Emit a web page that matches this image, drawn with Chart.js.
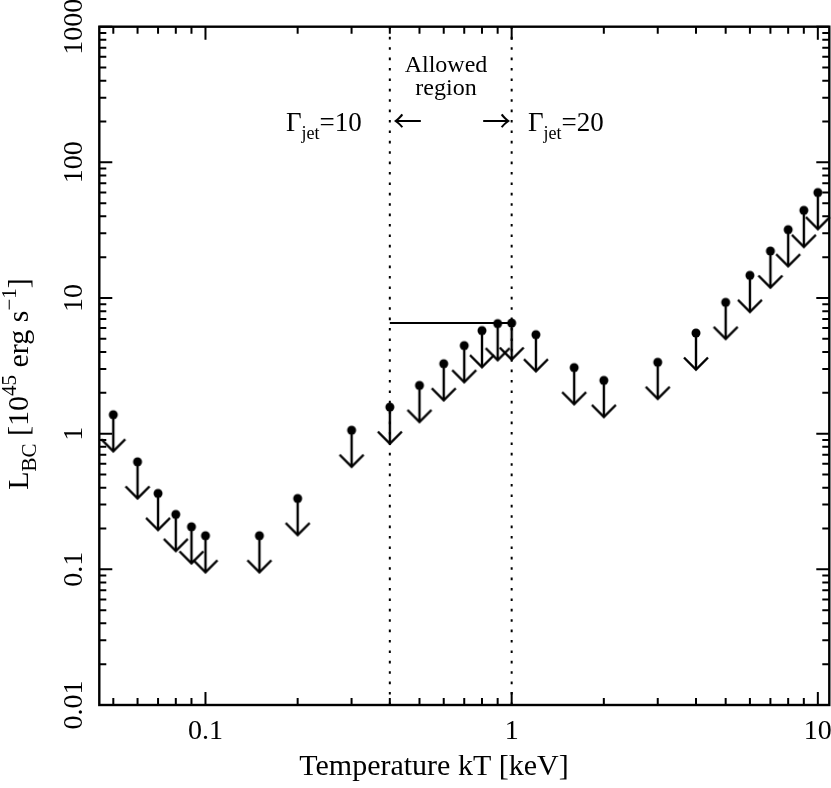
<!DOCTYPE html>
<html>
<head>
<meta charset="utf-8">
<title>L_BC upper limits vs temperature</title>
<script src="https://cdn.jsdelivr.net/npm/chart.js@4.4.1/dist/chart.umd.min.js"></script>
<style>
  html, body { margin: 0; padding: 0; background: #fff; overflow: hidden; }
  #wrap { width: 831px; height: 788px; }
  canvas { display: block; }
</style>
</head>
<body>
<div id="wrap"><canvas id="lbcChart" width="831" height="788"></canvas></div>
<script>
// Temperature kT [keV] of each trial and the upper limit on L_BC [1e45 erg/s]
const temperatures = [0.05, 0.06, 0.07, 0.08, 0.09, 0.1, 0.15, 0.2, 0.3, 0.4,
  0.5, 0.6, 0.7, 0.8, 0.9, 1.0, 1.2, 1.6, 2.0, 3.0, 4.0, 5.0, 6.0, 7.0, 8.0, 9.0, 10.0];
const upperLimits = [1.38, 0.62, 0.363, 0.254, 0.206, 0.177, 0.177, 0.333, 1.06, 1.57,
  2.27, 3.28, 4.46, 5.75, 6.48, 6.54, 5.37, 3.07, 2.47, 3.36, 5.52, 9.29, 14.7, 22.2, 31.9, 44.3, 59.9];

// Allowed region: Gamma_jet = 10 .. 20
const allowedRegionKT = [0.4, 1.0];
const allowedLevel = 6.55;

// Axis ranges and labelled ticks
const xRange = [0.045, 10.9];
const yRange = [0.01, 1000];
const xMajorTicks = [0.1, 1, 10];
const xTickLabels = ['0.1', '1', '10'];
const yMajorTicks = [0.01, 0.1, 1, 10, 100, 1000];
const yTickLabels = ['0.01', '0.1', '1', '10', '100', '1000'];

const SERIF = '"Liberation Serif", "DejaVu Serif", serif';
const ARROWS = '"Noto Sans CJK JP", "DejaVu Sans", sans-serif';

// 2..9 times each decade, inside the range
function minorTicks(range) {
  const out = [];
  const lo = Math.floor(Math.log10(range[0]));
  const hi = Math.ceil(Math.log10(range[1]));
  for (let d = lo; d <= hi; d++) {
    for (let m = 2; m <= 9; m++) {
      const v = m * Math.pow(10, d);
      if (v >= range[0] && v <= range[1]) out.push(v);
    }
  }
  return out;
}

// Dot with a down arrow below it (upper limit marker)
function makeLimitSymbol() {
  const c = document.createElement('canvas');
  c.width = 30;
  c.height = 86;
  const g = c.getContext('2d');
  const cx = 15, cy = 43, len = 36.5, head = 12;
  g.strokeStyle = '#000';
  g.fillStyle = '#000';
  g.lineWidth = 2.4;
  g.beginPath();
  g.moveTo(cx, cy);
  g.lineTo(cx, cy + len);
  g.stroke();
  g.beginPath();
  g.moveTo(cx - head, cy + len - head);
  g.lineTo(cx, cy + len);
  g.lineTo(cx + head, cy + len - head);
  g.stroke();
  g.beginPath();
  g.arc(cx, cy, 4.5, 0, Math.PI * 2);
  g.fill();
  return c;
}

// Draw text made of pieces, some raised or lowered
function drawRich(ctx, parts, x, y, align) {
  let total = 0;
  parts.forEach(p => {
    ctx.font = p.size + 'px ' + SERIF;
    p.w = ctx.measureText(p.text).width;
    total += p.w;
  });
  let cur = align === 'center' ? x - total / 2 : x;
  ctx.textAlign = 'left';
  ctx.textBaseline = 'alphabetic';
  parts.forEach(p => {
    ctx.font = p.size + 'px ' + SERIF;
    ctx.fillText(p.text, cur, y + (p.dy || 0));
    cur += p.w;
  });
}

const framePlugin = {
  id: 'frame',
  afterDraw(chart) {
    const ctx = chart.ctx;
    const a = chart.chartArea;
    const xs = chart.scales.x;
    const ys = chart.scales.y;
    ctx.save();
    ctx.strokeStyle = '#000';
    ctx.fillStyle = '#000';
    ctx.lineWidth = 2.4;
    ctx.strokeRect(a.left, a.top, a.right - a.left, a.bottom - a.top);

    // inward ticks on all four sides
    ctx.lineWidth = 2;
    function xTick(v, len) {
      const px = xs.getPixelForValue(v);
      ctx.beginPath();
      ctx.moveTo(px, a.bottom); ctx.lineTo(px, a.bottom - len);
      ctx.moveTo(px, a.top); ctx.lineTo(px, a.top + len);
      ctx.stroke();
    }
    function yTick(v, len) {
      const py = ys.getPixelForValue(v);
      ctx.beginPath();
      ctx.moveTo(a.left, py); ctx.lineTo(a.left + len, py);
      ctx.moveTo(a.right, py); ctx.lineTo(a.right - len, py);
      ctx.stroke();
    }
    xMajorTicks.forEach(v => xTick(v, 13));
    minorTicks(xRange).forEach(v => xTick(v, 7));
    yMajorTicks.forEach(v => yTick(v, 13));
    minorTicks(yRange).forEach(v => yTick(v, 7));

    // tick labels
    ctx.font = '28px ' + SERIF;
    ctx.textAlign = 'center';
    ctx.textBaseline = 'alphabetic';
    xMajorTicks.forEach((v, i) => {
      ctx.fillText(xTickLabels[i], xs.getPixelForValue(v), 739);
    });
    yMajorTicks.forEach((v, i) => {
      ctx.save();
      ctx.translate(82, ys.getPixelForValue(v));
      ctx.rotate(-Math.PI / 2);
      ctx.fillText(yTickLabels[i], 0, 0);
      ctx.restore();
    });

    // axis titles
    ctx.font = '30px ' + SERIF;
    ctx.fillText('Temperature kT [keV]', 434, 775);
    ctx.save();
    ctx.translate(28, 384);
    ctx.rotate(-Math.PI / 2);
    drawRich(ctx, [
      { text: 'L', size: 30 },
      { text: 'BC', size: 21, dy: 8 },
      { text: ' [10', size: 30 },
      { text: '45', size: 21, dy: -12 },
      { text: ' erg s', size: 30 },
      { text: '\u22121', size: 21, dy: -12 },
      { text: ']', size: 30 }
    ], 0, 0, 'center');
    ctx.restore();

    // annotations
    ctx.textAlign = 'center';
    ctx.font = '24px ' + SERIF;
    ctx.fillText('Allowed', 446, 72);
    ctx.fillText('region', 446, 95);
    drawRich(ctx, [
      { text: '\u0393', size: 27 },
      { text: 'jet', size: 18, dy: 8 },
      { text: '=10', size: 27 }
    ], 286, 131, 'left');
    drawRich(ctx, [
      { text: '\u0393', size: 27 },
      { text: 'jet', size: 18, dy: 8 },
      { text: '=20', size: 27 }
    ], 528, 131, 'left');
    ctx.font = '29px ' + ARROWS;
    ctx.textBaseline = 'middle';
    ctx.textAlign = 'left';
    ctx.fillText('\u2190', 393, 121);
    ctx.textAlign = 'right';
    ctx.fillText('\u2192', 511, 121);
    ctx.restore();
  }
};

function buildLimitChart() {
  const ctx = document.getElementById('lbcChart').getContext('2d');
  const limitPoints = temperatures.map((t, i) => ({ x: t, y: upperLimits[i] }));

  new Chart(ctx, {
    type: 'scatter',
    data: {
      datasets: [
        {
          label: 'Upper limits',
          data: limitPoints,
          pointStyle: makeLimitSymbol(),
          pointRadius: 12,
          clip: false
        },
        {
          label: 'Allowed level',
          data: allowedRegionKT.map(t => ({ x: t, y: allowedLevel })),
          showLine: true,
          borderColor: '#000',
          borderWidth: 2,
          pointRadius: 0
        },
        ...allowedRegionKT.map(t => ({
          label: 'Boundary ' + t,
          data: [{ x: t, y: yRange[0] }, { x: t, y: yRange[1] }],
          showLine: true,
          borderColor: '#000',
          borderWidth: 2,
          borderDash: [2.6, 7.8],
          pointRadius: 0
        }))
      ]
    },
    options: {
      responsive: false,
      animation: false,
      layout: {
        autoPadding: false,
        padding: { left: 99.3, top: 26.7, right: 1.7, bottom: 83 }
      },
      plugins: {
        legend: { display: false },
        tooltip: { enabled: false }
      },
      scales: {
        x: { type: 'logarithmic', min: xRange[0], max: xRange[1], display: false },
        y: { type: 'logarithmic', min: yRange[0], max: yRange[1], display: false }
      }
    },
    plugins: [framePlugin]
  });
}

document.addEventListener('DOMContentLoaded', buildLimitChart);
</script>
</body>
</html>
